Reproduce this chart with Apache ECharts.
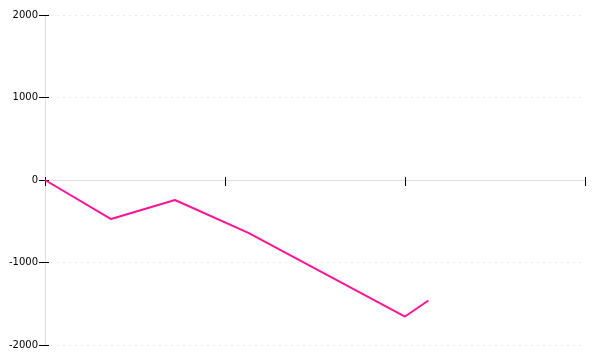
<!DOCTYPE html>
<html><head><meta charset="utf-8">
<script src="https://cdn.jsdelivr.net/npm/echarts@6/dist/echarts.min.js"></script>
<style>html,body{margin:0;padding:0;background:#fff}#c{width:600px;height:360px}</style>
</head><body><div id="c"></div>
<script>
const xValues = [0, 0.367, 0.722, 1.13, 2.0, 2.13];
const yValues = [0, -473, -242, -640, -1655, -1460];
const yTicks = [-2000, -1000, 0, 1000, 2000];

const chart = echarts.init(document.getElementById('c'), null, {renderer: 'canvas'});
const pts = xValues.map((x, i) => [x, yValues[i]]);
const xBase = {type: 'value', min: 0, max: 3, interval: 1, position: 'bottom',
  axisLabel: {show: false}, splitLine: {show: false}};
const yBase = {type: 'value', min: -2000, max: 2000, interval: 1000,
  axisLine: {show: true, onZero: false, lineStyle: {color: '#ddd'}}};
chart.setOption({
  animation: false,
  grid: {left: 45, right: 15, top: 15, bottom: 15},
  xAxis: [
    Object.assign({}, xBase, {axisLine: {show: true, onZero: true, lineStyle: {color: '#ddd'}},
      axisTick: {show: true, inside: false, length: 6, lineStyle: {color: '#000'}}}),
    Object.assign({}, xBase, {axisLine: {show: false, onZero: true},
      axisTick: {show: true, inside: true, length: 3, lineStyle: {color: '#000'}}})
  ],
  yAxis: [
    Object.assign({}, yBase, {
      axisTick: {show: true, inside: false, length: 6, lineStyle: {color: '#000'}},
      axisLabel: {show: true, margin: 7, fontSize: 10, color: '#000', fontFamily: 'DejaVu Sans',
        formatter: v => yTicks.includes(v) ? String(v) : ''},
      splitLine: {show: true, lineStyle: {color: '#e8e8e8', type: [2, 4], width: 1}}
    }),
    Object.assign({}, yBase, {position: 'left',
      axisTick: {show: true, inside: true, length: 4, lineStyle: {color: '#000'}},
      axisLabel: {show: false}, splitLine: {show: false}
    })
  ],
  series: [{
    type: 'line', data: pts, showSymbol: false, symbol: 'none',
    lineStyle: {color: '#ff1493', width: 2}, xAxisIndex: 0, yAxisIndex: 0, z: 3
  }]
});
</script></body></html>
